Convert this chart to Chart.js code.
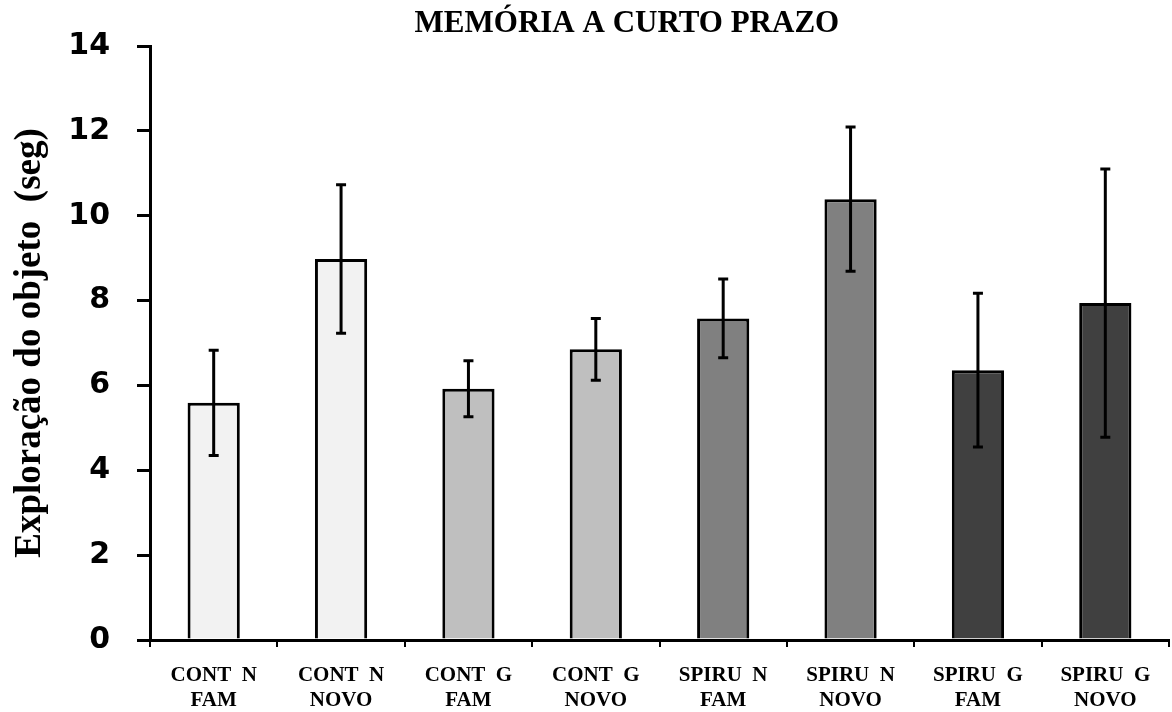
<!DOCTYPE html>
<html>
<head>
<meta charset="utf-8">
<script src="https://cdn.jsdelivr.net/npm/chart.js@4.4.0/dist/chart.umd.min.js"></script>
<style>
  html, body { margin: 0; padding: 0; background: #ffffff; }
  #wrap { width: 1172px; height: 712px; }
</style>
</head>
<body>
<div id="wrap"><canvas id="c" width="1172" height="712"></canvas></div>
<script>
const chartTitle = 'MEMÓRIA A CURTO PRAZO';
const yAxisTitle = 'Exploração do objeto  (seg)';
const categories = [
  ['CONT  N', 'FAM'], ['CONT  N', 'NOVO'],
  ['CONT  G', 'FAM'], ['CONT  G', 'NOVO'],
  ['SPIRU  N', 'FAM'], ['SPIRU  N', 'NOVO'],
  ['SPIRU  G', 'FAM'], ['SPIRU  G', 'NOVO']
];
const means  = [5.59, 8.98, 5.92, 6.85, 7.58, 10.39, 6.36, 7.94];
const errors = [1.24, 1.75, 0.66, 0.73, 0.93, 1.70, 1.81, 3.16];
const barColors = ['#f2f2f2', '#f2f2f2', '#bfbfbf', '#bfbfbf', '#808080', '#808080', '#404040', '#404040'];
const yMin = 0, yMax = 14, yStep = 2;

const errorBarPlugin = {
  id: 'errorBars',
  afterDatasetsDraw(chart) {
    const ctx = chart.ctx;
    const xs = chart.scales.x, ys = chart.scales.y;
    ctx.save();
    ctx.strokeStyle = '#000';
    ctx.lineWidth = 3;
    means.forEach((m, i) => {
      const x = xs.getPixelForValue(i);
      const yt = ys.getPixelForValue(m + errors[i]);
      const yb = ys.getPixelForValue(m - errors[i]);
      ctx.beginPath();
      ctx.moveTo(x, yt); ctx.lineTo(x, yb);
      ctx.moveTo(x - 5, yt); ctx.lineTo(x + 5, yt);
      ctx.moveTo(x - 5, yb); ctx.lineTo(x + 5, yb);
      ctx.stroke();
    });
    ctx.restore();
  }
};

const titlePlugin = {
  id: 'customTitle',
  afterDraw(chart) {
    const ctx = chart.ctx;
    const a = chart.chartArea;
    ctx.save();
    ctx.fillStyle = '#000';
    ctx.font = 'bold 31px "Liberation Serif", "Times New Roman", serif';
    ctx.textAlign = 'center';
    ctx.textBaseline = 'middle';
    ctx.fillText(chartTitle, a.left + (a.right - a.left) * 0.468, 24);
    ctx.restore();
  }
};

new Chart(document.getElementById('c'), {
  type: 'bar',
  data: {
    labels: categories,
    datasets: [{
      data: means,
      backgroundColor: barColors,
      borderColor: '#000',
      borderWidth: 3,
      barPercentage: 0.41,
      categoryPercentage: 1.0
    }]
  },
  options: {
    responsive: false,
    animation: false,
    layout: { padding: { top: 46, right: 3, left: 0, bottom: 0 } },
    plugins: {
      legend: { display: false },
      tooltip: { enabled: false },
      title: { display: false }
    },
    scales: {
      x: {
        offset: true,
        grid: { display: true, drawOnChartArea: false, drawTicks: true, tickLength: 7, color: '#000', lineWidth: 2, offset: true },
        border: { display: true, color: '#000', width: 3 },
        ticks: {
          color: '#000',
          font: { family: '"Liberation Serif", "Times New Roman", serif', weight: 'bold', size: 21, lineHeight: 1.2 },
          padding: 16,
          maxRotation: 0,
          autoSkip: false
        },
        afterFit(scale) { scale.height = 72; }
      },
      y: {
        min: yMin, max: yMax,
        grid: { display: true, drawOnChartArea: false, drawTicks: true, tickLength: 13, color: '#000', lineWidth: 3 },
        border: { display: true, color: '#000', width: 3 },
        ticks: {
          stepSize: yStep,
          color: '#000',
          font: { family: '"DejaVu Sans", Verdana, sans-serif', weight: 'bold', size: 30 },
          padding: 27
        },
        title: {
          display: true,
          text: yAxisTitle,
          color: '#000',
          font: { family: '"Liberation Serif", "Times New Roman", serif', weight: 'bold', size: 37, lineHeight: 1.2 },
          padding: { top: 8, bottom: 0 }
        },
        afterFit(scale) { scale.width = 150; }
      }
    }
  },
  plugins: [errorBarPlugin, titlePlugin]
});
</script>
</body>
</html>
